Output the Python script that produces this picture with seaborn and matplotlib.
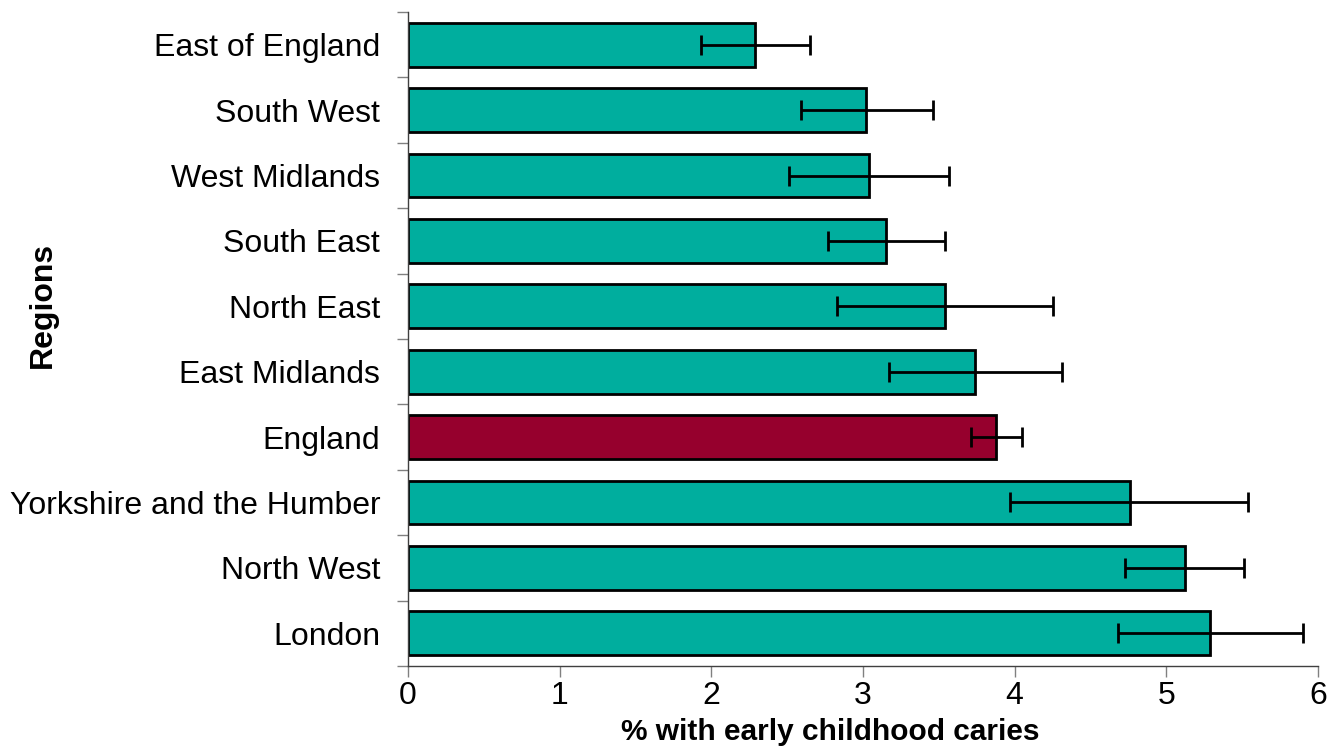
import matplotlib
matplotlib.use("Agg")
import matplotlib.pyplot as plt
import seaborn as sns
import pandas as pd
import numpy as np

regions = ["East of England", "South West", "West Midlands", "South East",
           "North East", "East Midlands", "England",
           "Yorkshire and the Humber", "North West", "London"]
prevalence = [2.29, 3.02, 3.04, 3.15, 3.54, 3.74, 3.88, 4.76, 5.12, 5.29]
ci_lower = [1.93, 2.59, 2.51, 2.77, 2.83, 3.17, 3.71, 3.97, 4.73, 4.68]
ci_upper = [2.65, 3.46, 3.57, 3.54, 4.25, 4.31, 4.05, 5.54, 5.51, 5.90]
x_ticks = [0, 1, 2, 3, 4, 5, 6]

teal = "#00AE9E"
crimson = "#96002D"

sns.set_theme(style="white")
plt.rcParams["font.family"] = ["Liberation Sans", "DejaVu Sans"]
plt.rcParams["text.color"] = "black"
plt.rcParams["axes.labelcolor"] = "black"
plt.rcParams["xtick.color"] = "black"
plt.rcParams["ytick.color"] = "black"

df = pd.DataFrame({
    "region": regions,
    "value": prevalence,
    "group": ["England" if r == "England" else "Region" for r in regions],
})

fig = plt.figure(figsize=(13.43, 7.51), dpi=100)
ax = fig.add_axes([0.3038, 0.1132, 0.6776, 0.8708])

sns.barplot(data=df, x="value", y="region", hue="group", orient="h",
            order=regions, hue_order=["Region", "England"],
            palette={"Region": teal, "England": crimson}, saturation=1,
            dodge=False, width=0.67, edgecolor="black", linewidth=2,
            legend=False, ax=ax)

vals = np.array(prevalence)
lo = vals - np.array(ci_lower)
hi = np.array(ci_upper) - vals
ax.errorbar(vals, np.arange(len(regions)), xerr=[lo, hi], fmt="none",
            ecolor="black", elinewidth=2, capsize=7, capthick=2, zorder=5)

ax.set_xlim(0, 6)
ax.set_ylim(len(regions) - 0.5, -0.5)
ax.set_xticks(x_ticks)
ax.set_xticklabels([str(t) for t in x_ticks], fontsize=23)

# category labels sit between the boundary ticks
ax.set_yticks(np.arange(-0.5, len(regions), 1.0))
ax.set_yticklabels([])
ax.set_yticks(np.arange(len(regions)), minor=True)
ax.set_yticklabels(regions, minor=True, fontsize=23)
ax.tick_params(axis="y", which="minor", length=0, pad=20)
ax.tick_params(axis="y", which="major", length=8, width=1, color="#808080",
               left=True, direction="out")
ax.tick_params(axis="x", length=8, width=1, color="#808080", bottom=True,
               direction="out", pad=3)

for side in ["top", "right"]:
    ax.spines[side].set_visible(False)
ax.spines["left"].set_color("#404040")
ax.spines["bottom"].set_color("#404040")
ax.spines["left"].set_linewidth(1)
ax.spines["bottom"].set_linewidth(1)

ax.set_xlabel("% with early childhood caries", fontsize=21.5, fontweight="bold")
ax.xaxis.set_label_coords(0.464, -0.079)
ax.set_ylabel("Regions", fontsize=23, fontweight="bold")
ax.yaxis.set_label_coords(-0.385, 0.552)
ax.grid(False)

fig.savefig("out.png", dpi=100, facecolor="white")
